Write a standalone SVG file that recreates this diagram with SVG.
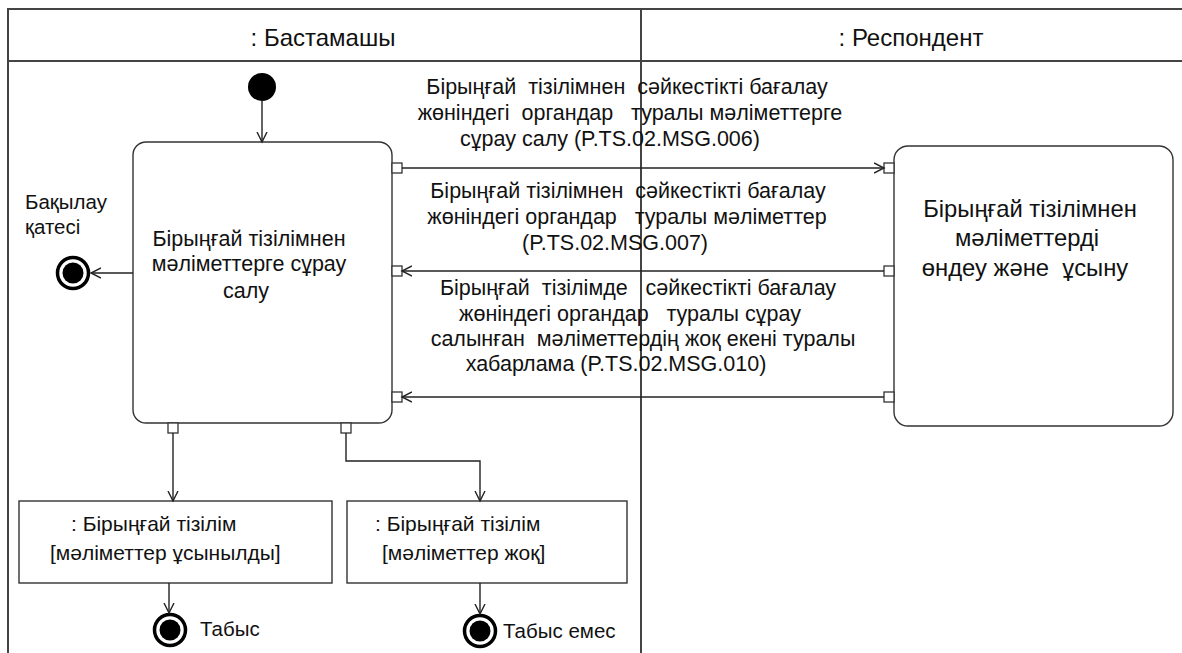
<svg xmlns="http://www.w3.org/2000/svg" width="1182" height="653" viewBox="0 0 1182 653">
<style>
.t{font-family:"Liberation Sans",Arial,sans-serif;font-size:21.5px;fill:#111;white-space:pre}
.h{font-size:24px}
.s20{font-size:20.5px}
.s21{font-size:21px}
.s24{font-size:23.8px}
.m{text-anchor:middle}
.frame{fill:none;stroke:#444;stroke-width:2}
.box{fill:#fff;stroke:#333;stroke-width:1.4}
.pin{fill:#fff;stroke:#333;stroke-width:1.3}
.c{fill:none;stroke:#222;stroke-width:1.4}
.ring{fill:#fff;stroke:#000;stroke-width:3.5}
</style>
<defs>
<marker id="ah" markerUnits="userSpaceOnUse" markerWidth="12" markerHeight="12" refX="10" refY="5" orient="auto" viewBox="0 0 12 10">
<path d="M0,0 L10,5 L0,10" fill="none" stroke="#222" stroke-width="1.4"/>
</marker>
</defs>
<rect width="1182" height="653" fill="#fff"/>
<g id="swimlanes">
<rect class="frame" x="8" y="9" width="1180" height="660"/>
<line class="frame" x1="8" y1="61" x2="1182" y2="61"/>
<line class="frame" x1="641" y1="9" x2="641" y2="653"/>
<text class="t h m" x="323" y="46">: Бастамашы</text>
<text class="t h m" x="911" y="46">: Респондент</text>
</g>
<g id="initial">
<circle cx="262" cy="87" r="14" fill="#000"/>
</g>
<g id="request">
<rect class="box" x="133" y="142" width="259" height="281" rx="13"/>
<text class="t m" x="249" y="246">Бірыңғай тізілімнен</text>
<text class="t m" x="249" y="271">мәліметтерге сұрау</text>
<text class="t m" x="246" y="298">салу</text>
<rect class="pin" x="392" y="163" width="10" height="10"/>
<rect class="pin" x="392" y="266" width="10" height="10"/>
<rect class="pin" x="392" y="392" width="10" height="10"/>
<rect class="pin" x="168" y="423" width="10" height="10"/>
<rect class="pin" x="341" y="423" width="10" height="10"/>
</g>
<g id="process">
<rect class="box" x="894" y="146" width="279" height="280" rx="14"/>
<text class="t s24 m" x="1030" y="217">Бірыңғай тізілімнен</text>
<text class="t s24 m" x="1027" y="246">мәліметтерді</text>
<text class="t s24 m" x="1025" y="276">өндеу және  ұсыну</text>
<rect class="pin" x="884" y="163" width="10" height="10"/>
<rect class="pin" x="884" y="266" width="10" height="10"/>
<rect class="pin" x="884" y="392" width="10" height="10"/>
</g>
<g id="final-error">
<circle class="ring" cx="73" cy="273" r="15.5"/>
<circle cx="73" cy="273" r="10.5" fill="#000"/>
<text class="t s20" x="25" y="209">Бақылау</text>
<text class="t s20" x="25" y="234">қатесі</text>
</g>
<g id="obj-provided">
<rect class="box" x="19" y="501" width="313" height="82"/>
<text class="t s21" x="71" y="531">: Бірыңғай тізілім</text>
<text class="t s21" x="50" y="560">[мәліметтер ұсынылды]</text>
</g>
<g id="obj-none">
<rect class="box" x="347" y="501" width="280" height="82"/>
<text class="t s21" x="375" y="531">: Бірыңғай тізілім</text>
<text class="t s21" x="382" y="560">[мәліметтер жоқ]</text>
</g>
<g id="final-success">
<circle class="ring" cx="170" cy="630" r="15.5"/>
<circle cx="170" cy="630" r="10.5" fill="#000"/>
<text class="t s20" x="200" y="636">Табыс</text>
</g>
<g id="final-fail">
<circle class="ring" cx="480" cy="631" r="15.5"/>
<circle cx="480" cy="631" r="10.5" fill="#000"/>
<text class="t s20" x="503" y="638">Табыс емес</text>
</g>
<g id="connectors">
<line class="c" x1="262" y1="101" x2="262" y2="142" marker-end="url(#ah)"/>
<line class="c" x1="402" y1="168" x2="884" y2="168" marker-end="url(#ah)"/>
<line class="c" x1="884" y1="271" x2="402" y2="271" marker-end="url(#ah)"/>
<line class="c" x1="884" y1="397" x2="402" y2="397" marker-end="url(#ah)"/>
<line class="c" x1="133" y1="273" x2="91" y2="273" marker-end="url(#ah)"/>
<line class="c" x1="173" y1="433" x2="173" y2="501" marker-end="url(#ah)"/>
<polyline class="c" points="346,433 346,461 480,461 480,501" marker-end="url(#ah)"/>
<line class="c" x1="169" y1="583" x2="169" y2="613" marker-end="url(#ah)"/>
<line class="c" x1="480" y1="583" x2="480" y2="614" marker-end="url(#ah)"/>
<text class="t m" x="627" y="94">Бірыңғай  тізілімнен  сәйкестікті бағалау</text>
<text class="t m" x="630" y="120">жөніндегі  органдар   туралы мәліметтерге</text>
<text class="t m" x="610" y="146">сұрау салу (P.TS.02.MSG.006)</text>
<text class="t m" x="628" y="198">Бірыңғай тізілімнен  сәйкестікті бағалау</text>
<text class="t m" x="627" y="224">жөніндегі органдар   туралы мәліметтер</text>
<text class="t m" x="615" y="250">(P.TS.02.MSG.007)</text>
<text class="t m" x="638" y="295">Бірыңғай  тізілімде   сәйкестікті бағалау</text>
<text class="t m" x="630" y="321">жөніндегі органдар   туралы сұрау</text>
<text class="t m" x="643" y="346">салынған  мәліметтердің жоқ екені туралы</text>
<text class="t m" x="616" y="371">хабарлама (P.TS.02.MSG.010)</text>
</g>
</svg>
